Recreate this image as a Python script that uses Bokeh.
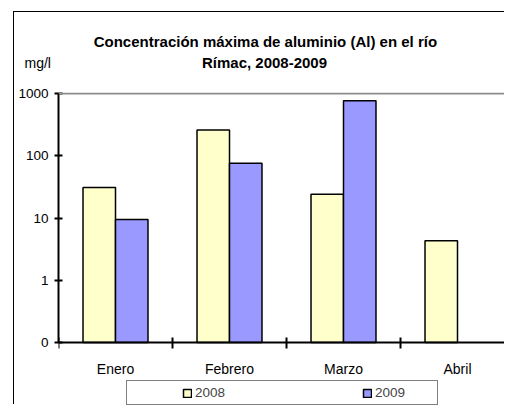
from bokeh.plotting import figure
from bokeh.models import (Range1d, FixedTicker, Label, Legend, LegendItem, Span)
from bokeh.embed import file_html
from bokeh.resources import INLINE

# ---- data ----
months = ["Enero", "Febrero", "Marzo", "Abril"]
series = ["2008", "2009"]
y2008 = [31, 260, 24, 4.3]
y2009 = [9.5, 76, 766, float("nan")]
y_ticks = [0.1, 1, 10, 100, 1000]
y_tick_labels = ["0", "1", "10", "100", "1000"]
colors = ["#FFFFCC", "#9999FF"]
title_lines = ["Concentración máxima de aluminio (Al) en el  río", "Rímac, 2008-2009"]
unit_label = "mg/l"

FONT = "Liberation Sans"
BAR_W = 0.285

# page geometry (pixels)
PAGE_W, PAGE_H = 505, 405
OX, OY = 14, 12                      # canvas origin (after outer border)
FRAME_L, FRAME_T, FRAME_B = 58, 93, 342   # where the 0.1..1000 axis sits
VIEW_T, VIEW_B = 92, PAGE_H          # drawable frame extent
PX_PER_CAT = 114.0
PX_PER_DEC = (FRAME_B - FRAME_T) / 4.0


def px_x(px):
    return -0.5 + (px - FRAME_L) / PX_PER_CAT


def px_y(py):
    return 10 ** (3 + (FRAME_T - py) / PX_PER_DEC)


centers = list(range(len(months)))
bounds = [c - 0.5 for c in centers] + [centers[-1] + 0.5]

p = figure(width=PAGE_W - OX, height=PAGE_H - OY, output_backend="svg",
           toolbar_location=None, x_axis_location="above",
           x_range=Range1d(-0.5, px_x(PAGE_W)), y_range=Range1d(px_y(VIEW_B), px_y(VIEW_T)),
           y_axis_type="log",
           min_border_left=FRAME_L - OX, min_border_right=0, min_border_top=VIEW_T - OY,
           min_border_bottom=0)
p.styles = {"margin-left": "13px", "margin-top": "11px",
            "border-left": "1px solid #000000", "border-top": "1px solid #000000"}
p.outline_line_color = None
p.background_fill_color = "white"
p.border_fill_color = "white"
p.xgrid.visible = False
p.ygrid.visible = False

x08 = [c - BAR_W / 2 for c in centers]
x09 = [c + BAR_W / 2 for c in centers]
r1 = p.vbar(x=x08, top=y2008, bottom=y_ticks[0], width=BAR_W,
            fill_color=colors[0], line_color="black", line_width=1.5)
r2 = p.vbar(x=x09, top=y2009, bottom=y_ticks[0], width=BAR_W,
            fill_color=colors[1], line_color="black", line_width=1.5)

p.add_layout(Span(location=y_ticks[-1], dimension="width",
                  line_color="#8c8c8c", line_width=2))

# x axis, drawn at the 0 (0.1) level; category boundaries as crossing ticks
xa = p.xaxis[0]
xa.fixed_location = y_ticks[0]
xa.ticker = FixedTicker(ticks=[], minor_ticks=bounds)
xa.major_tick_in = 0
xa.major_tick_out = 0
xa.minor_tick_in = 6
xa.minor_tick_out = 5
xa.minor_tick_line_color = "black"
xa.minor_tick_line_width = 2
xa.axis_line_color = "black"
xa.axis_line_width = 2
xa.major_label_standoff = 0

for c, m in zip(centers, months):
    p.add_layout(Label(x=c, y=px_y(368), text=m, text_align="center",
                       text_baseline="middle", text_font=FONT, text_font_size="14px",
                       text_color="black"))

# y axis
ya = p.yaxis[0]
ya.ticker = FixedTicker(ticks=y_ticks)
ya.bounds = (y_ticks[0], y_ticks[-1])
ya.major_label_overrides = {t: l for t, l in zip(y_ticks, y_tick_labels)}
ya.major_tick_in = 4
ya.major_tick_out = 4
ya.major_tick_line_color = "black"
ya.major_tick_line_width = 2
ya.minor_tick_line_color = None
ya.axis_line_color = "black"
ya.axis_line_width = 2
ya.major_label_standoff = 6
ya.major_label_text_font = FONT
ya.major_label_text_font_size = "13.5px"
ya.major_label_text_color = "black"

# title lines and unit label, kept in the top panel (placed by the scales)
p.add_layout(Label(x=px_x(267), y=px_y(41), text=title_lines[0],
                   text_align="center", text_baseline="alphabetic", text_font=FONT,
                   text_font_size="15px", text_font_style="bold", text_color="black"),
             "above")
p.add_layout(Label(x=px_x(264), y=px_y(62), text=title_lines[1],
                   text_align="center", text_baseline="alphabetic", text_font=FONT,
                   text_font_size="15px", text_font_style="bold", text_color="black"),
             "above")
p.add_layout(Label(x=px_x(24), y=px_y(62), text=unit_label,
                   text_align="left", text_baseline="alphabetic", text_font=FONT,
                   text_font_size="14px", text_color="black"),
             "above")

legend = Legend(items=[LegendItem(label=series[0], renderers=[r1]),
                       LegendItem(label=series[1], renderers=[r2])],
                location=(68, 0), orientation="horizontal",
                border_line_color="black", border_line_width=1,
                background_fill_color="white", background_fill_alpha=1,
                glyph_width=10, glyph_height=10, label_standoff=3, label_width=58,
                spacing=109, label_text_font=FONT,
                label_text_font_size="13.5px", padding=4, margin=0,
                title=" ", title_location="left", title_text_font_size="1px",
                title_standoff=50)
p.add_layout(legend)

open("out.html", "w").write(file_html(p, INLINE))
